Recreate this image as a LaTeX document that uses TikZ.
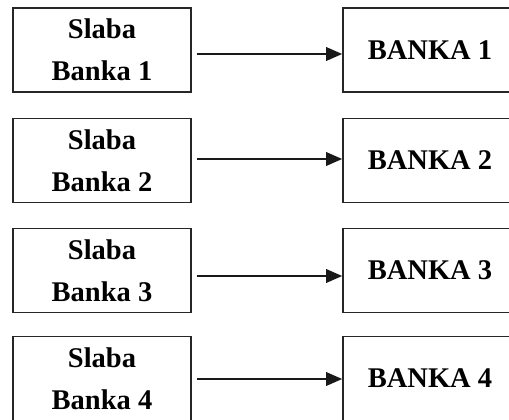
\documentclass[tikz,border=0pt]{standalone}
\usepackage{fontspec}
\setmainfont{Liberation Serif}
\usetikzlibrary{arrows.meta}

\begin{document}
\begin{tikzpicture}[x=1bp,y=1bp,
  box/.style={draw=black!85, line width=1.6bp, inner sep=0pt,
    minimum height=84bp, align=center,
    font=\fontsize{28.5bp}{42bp}\selectfont\bfseries},
  weak/.style={box, minimum width=178bp},
  bank/.style={box, minimum width=174bp},
  arr/.style={draw=black!90, line width=1.8bp, shorten <=5bp,
    -{Triangle[length=16bp,width=13.5bp]}}]
  \useasboundingbox (0,0) rectangle (509,419);
  \clip (0,0) rectangle (509,419);

  % weak banks on the left, healthy banks on the right
  \foreach \i/\yc/\dy in {1/369/-4, 2/258.5/1.5, 3/148.5/-5.5, 4/40.5/-0.5} {
    \node[weak] (L\i) at (102,\yc) {Slaba\\Banka \i};
    \node[bank] (R\i) at (430,\yc) {BANKA \i};
    \draw[arr] ([yshift=\dy bp]L\i.east) -- ([yshift=\dy bp]R\i.west);
  }
\end{tikzpicture}
\end{document}
